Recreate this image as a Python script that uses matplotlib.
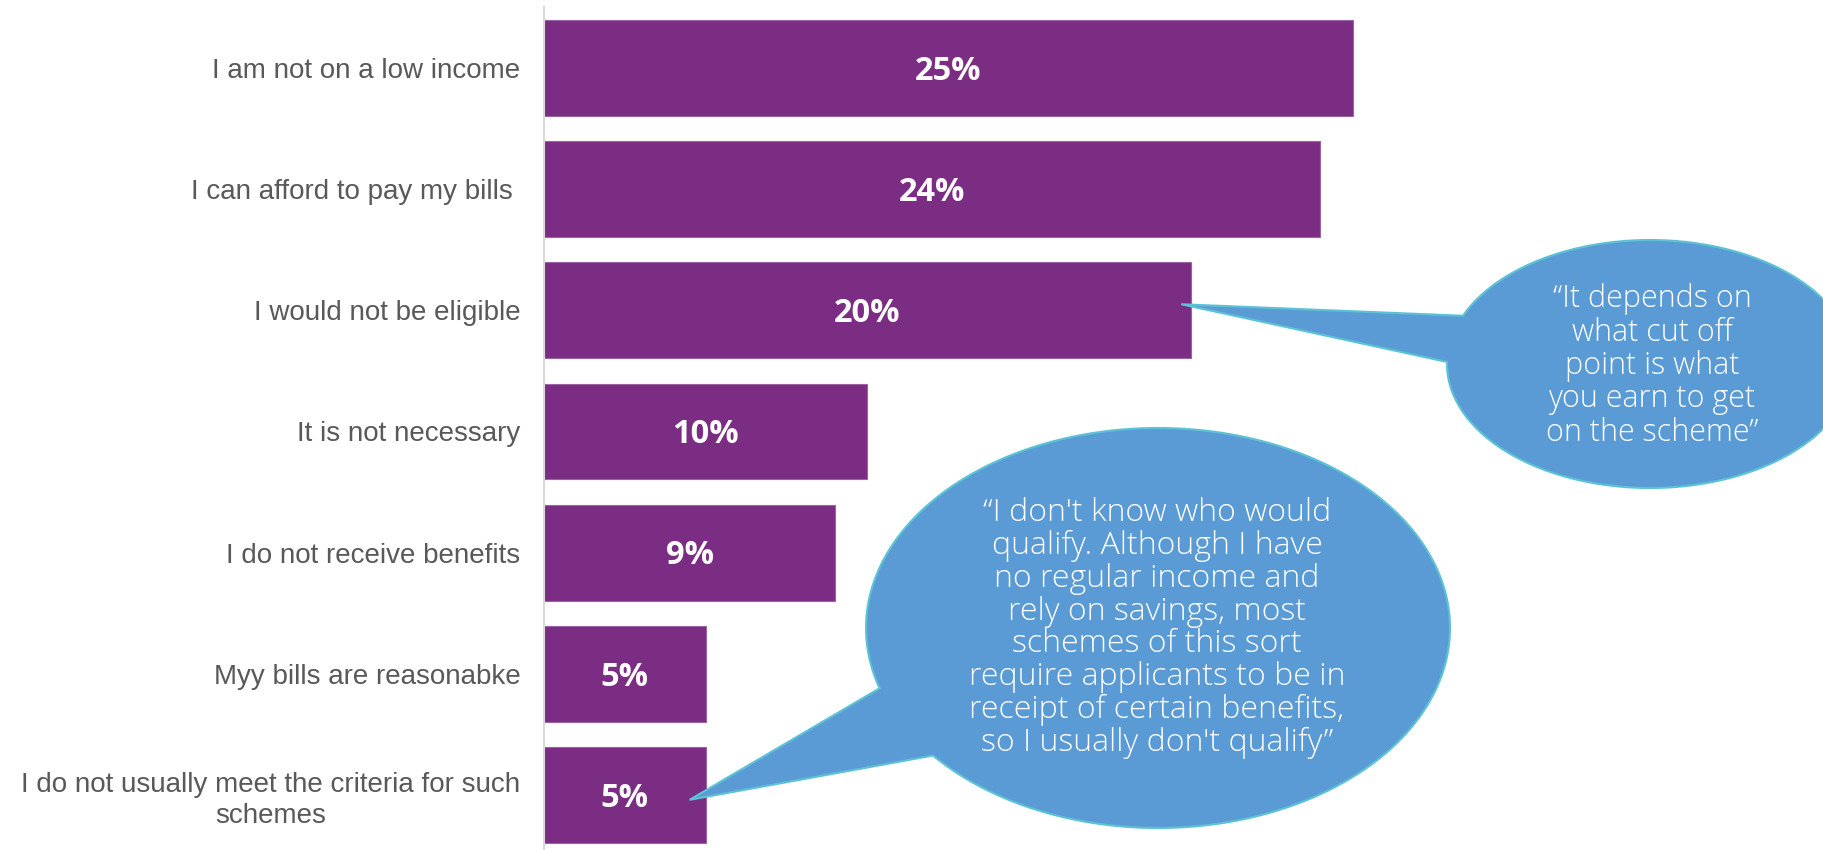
import numpy as np
import matplotlib
matplotlib.use("Agg")
import matplotlib.pyplot as plt
from matplotlib.path import Path
from matplotlib.patches import PathPatch
from matplotlib.transforms import Affine2D

# Survey responses: reasons for not applying to the scheme
categories = [
    "I am not on a low income",
    "I can afford to pay my bills ",
    "I would not be eligible",
    "It is not necessary",
    "I do not receive benefits",
    "Myy bills are reasonabke",
    "I do not usually meet the criteria for such\nschemes",
]
values = [25, 24, 20, 10, 9, 5, 5]
value_labels = ["25%", "24%", "20%", "10%", "9%", "5%", "5%"]

quote_top = "\u201cIt depends on\nwhat cut off\npoint is what\nyou earn to get\non the scheme\u201d"
quote_bottom = ("\u201cI don't know who would\nqualify. Although I have\nno regular income and\n"
                "rely on savings, most\nschemes of this sort\nrequire applicants to be in\n"
                "receipt of certain benefits,\nso I usually don't qualify\u201d")

BAR_COLOR = "#7B2C83"
BUBBLE_FILL = "#5B9BD5"
BUBBLE_EDGE = "#5BC3D5"
LABEL_COLOR = "#595959"

W, H = 1824, 850
fig = plt.figure(figsize=(W / 100, H / 100), dpi=100)
fig.patch.set_facecolor("white")

ax_left, ax_top = 544, 7
ax = fig.add_axes([ax_left / W, 0, 1 - ax_left / W, (H - ax_top) / H])

y = np.arange(len(categories))
ax.barh(y, values, height=0.79, color=BAR_COLOR, edgecolor="#9A63A2",
        linewidth=0.8, zorder=2)

px_per_unit = 32.35
ax.set_xlim(0, (W - ax_left) / px_per_unit)
ax.set_ylim(6.454, -0.503)

# Value labels, digits vertically centred on each bar
vfs = 23.5
for yi, v, lab in zip(y, values, value_labels):
    ax.annotate(lab, xy=(v / 2, yi), xytext=(0, -0.36 * vfs), textcoords="offset points",
                ha="center", va="baseline", color="white", fontsize=vfs,
                fontweight="bold", family=["Open Sans", "DejaVu Sans"], zorder=4)

ax.set_yticks(y)
ax.set_yticklabels(categories, fontsize=20, color=LABEL_COLOR,
                   family=["Liberation Sans", "DejaVu Sans"])
for t in ax.get_yticklabels():
    t.set_multialignment("center")
    t.set_linespacing(1.25)
ax.tick_params(axis="y", length=0, pad=17)
ax.set_xticks([])
for side in ("top", "right", "bottom"):
    ax.spines[side].set_visible(False)
ax.spines["left"].set_color("#D9D9D9")
ax.spines["left"].set_linewidth(1.5)

# Pixel coordinates (origin top-left) for the speech bubbles
pix = Affine2D().scale(1 / W, -1 / H).translate(0, 1) + fig.transFigure


def data_to_pix(xv, yv):
    dx, dy = ax.transData.transform((xv, yv))
    return dx, H - dy


def bubble_path(cx, cy, a, b, tip, base1, base2, n=200):
    def ang(p):
        return np.arctan2((p[1] - cy) / b, (p[0] - cx) / a)
    t1, t2, tt = ang(base1), ang(base2), ang(tip)
    span = (t2 - t1) % (2 * np.pi)
    if (tt - t1) % (2 * np.pi) < span:
        span = span - 2 * np.pi
    ts = t1 + np.linspace(0, span, n)
    arc = np.column_stack([cx + a * np.cos(ts), cy + b * np.sin(ts)])
    verts = np.vstack([[tip], arc, [tip]])
    codes = [Path.MOVETO] + [Path.LINETO] * (len(verts) - 2) + [Path.CLOSEPOLY]
    return Path(verts, codes)


tip1 = data_to_pix(values[2] - 0.3, 2 - 0.05)
tip2 = data_to_pix(values[6] - 0.5, 6 + 0.04)

p1 = bubble_path(1650, 364, 203, 124, tip1, (1464, 316), (1449, 362))
p2 = bubble_path(1158, 628, 292, 200, tip2, (881, 688), (934, 755))
for p in (p1, p2):
    fig.patches.append(PathPatch(p, transform=pix, facecolor=BUBBLE_FILL,
                                 edgecolor=BUBBLE_EDGE, linewidth=1.5, zorder=5))

qfont = dict(color="white", ha="center", va="center", multialignment="center",
             family=["Open Sans", "DejaVu Sans"], fontweight="light", zorder=6)
fig.text(1652, 366, quote_top, transform=pix, fontsize=22, linespacing=1.06, **qfont)
fig.text(1157, 628, quote_bottom, transform=pix, fontsize=23, linespacing=1.03, **qfont)

fig.savefig("out.png", dpi=100, facecolor="white")
